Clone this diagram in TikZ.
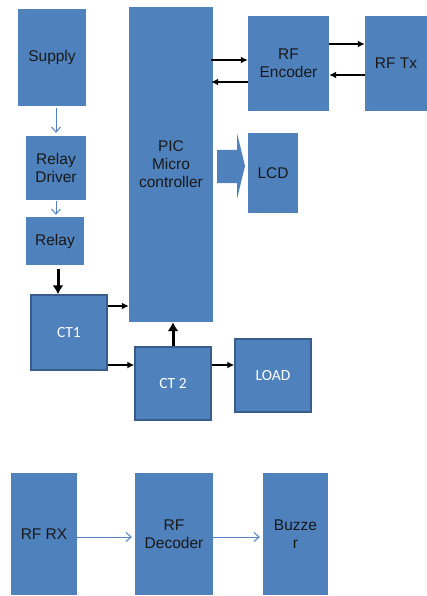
\documentclass[tikz,border=0pt]{standalone}
\usepackage{fontspec}
\setmainfont{Liberation Sans}
\newfontfamily\calfont{Carlito}
\usetikzlibrary{arrows.meta,calc}
\definecolor{boxblue}{RGB}{79,129,189}
\definecolor{edgeblue}{RGB}{56,93,138}
\definecolor{lineblue}{RGB}{80,130,195}
\definecolor{txt}{RGB}{25,25,25}
\tikzset{
  blk/.style={fill=boxblue, draw=none, inner sep=0pt, align=center, text=txt,
    font=\fontsize{15.5}{18}\selectfont},
  ctblk/.style={fill=boxblue, draw=edgeblue, line width=1.4pt, inner sep=0pt, align=center,
    text=white, font=\calfont\fontsize{15.5}{18}\selectfont},
  thinarr/.style={draw=lineblue, line width=1pt, -{Straight Barb[length=5pt,width=9pt]}},
  blkarr/.style={draw=black, line width=1.4pt, -{Latex[length=7pt,width=7pt]}},
  thickarr/.style={draw=black, line width=3pt, -{Latex[length=9pt,width=11pt]}}
}
\begin{document}
\begin{tikzpicture}[x=1pt,y=-1pt]
\useasboundingbox (0,0) rectangle (427,596);
\node[blk, minimum width=68pt, minimum height=97pt] (supply) at (52,57.5) {Supply};
\node[blk, minimum width=60pt, minimum height=64pt] (driver) at (56,168) {Relay\\Driver};
\node[blk, minimum width=58pt, minimum height=48pt] (relay) at (55,241) {Relay};
\node[blk, minimum width=84pt, minimum height=315pt] (pic) at (171,164.5) {PIC\\Micro\\controller};
\node[blk, minimum width=81pt, minimum height=95pt] (enc) at (288.5,63.5) {RF\\Encoder};
\node[blk, minimum width=62pt, minimum height=95pt] (tx) at (396,63.5) {RF Tx};
\node[blk, minimum width=50pt, minimum height=80pt] (lcd) at (273,173) {LCD};
\node[ctblk, minimum width=76pt, minimum height=75pt] (ct1) at (69,332.5) {CT1};
\node[ctblk, minimum width=76pt, minimum height=73pt] (ct2) at (173,383.5) {CT 2};
\node[ctblk, minimum width=76pt, minimum height=73pt] (load) at (273,375.5) {LOAD};
\node[blk, minimum width=66pt, minimum height=122pt] (rx) at (44,534) {RF RX};
\node[blk, minimum width=78pt, minimum height=122pt] (dec) at (174,534) {RF\\Decoder};
\node[blk, minimum width=65pt, minimum height=122pt] (buz) at (295.5,534) {Buzze\\r};

% thin blue arrows
\draw[thinarr, shorten <=2pt, shorten >=3pt] (driver.north |- supply.south) -- (driver.north);
\draw[thinarr, shorten <=1pt, shorten >=2pt] (driver.south) -- (driver.south |- relay.north);
\path (rx.east) ++(0,3) coordinate (b1);
\draw[thinarr, shorten >=3pt] (b1) -- (b1 -| dec.west);
\path (dec.east) ++(0,3) coordinate (b2);
\draw[thinarr, shorten >=3pt] (b2) -- (b2 -| buz.west);

% thick black arrows
\draw[thickarr, shorten <=4pt] ([xshift=3pt]relay.south) -- ([xshift=3pt]relay.south |- ct1.north);
\draw[thickarr] (ct2.north) -- (ct2.north |- pic.south);

% black arrows
\path (enc.west) ++(0,-3.5) coordinate (e1);
\draw[blkarr] ([xshift=-2pt]pic.east |- e1) -- (e1);
\path (enc.west) ++(0,18.5) coordinate (e2);
\draw[blkarr] (e2) -- ([xshift=-2pt]pic.east |- e2);
\path (enc.east) ++(0,-19.5) coordinate (t1);
\draw[blkarr] (t1) -- (t1 -| tx.west);
\path (enc.east) ++(0,11.5) coordinate (t2);
\draw[blkarr] (t2 -| tx.west) -- (t2);
\path (ct1.east) ++(0,-26.5) coordinate (c1);
\draw[blkarr] (c1) -- (c1 -| pic.west);
\path (ct1.east) ++(0,32.5) coordinate (c2);
\draw[blkarr] (c2) -- (c2 -| ct2.west);
\path (ct2.east) ++(0,-18.5) coordinate (c3);
\draw[blkarr] (c3) -- (c3 -| load.west);

% block arrow PIC -> LCD
\fill[boxblue] (217,150) -- (237,150) -- (237,133) -- (245,166) -- (237,199) -- (237,183) -- (217,183) -- cycle;
\end{tikzpicture}
\end{document}
